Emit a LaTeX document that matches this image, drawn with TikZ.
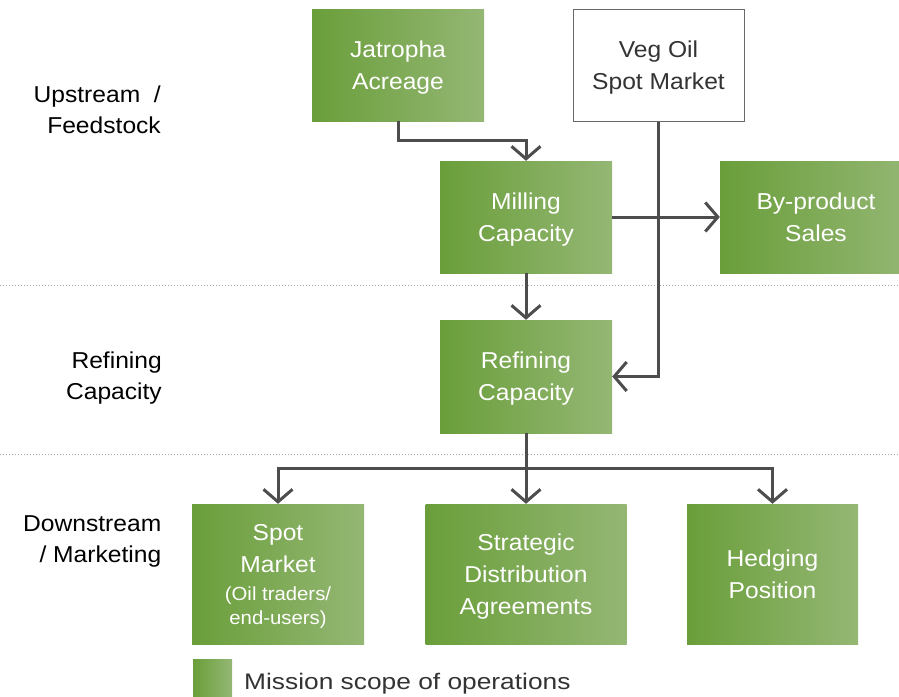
\documentclass[tikz,border=0pt]{standalone}
\usepackage{fontspec}
\setmainfont{Liberation Sans}
\newfontfamily\boxfont{Liberation Sans}[FakeStretch=1.07]
\newfontfamily\legfont{Liberation Sans}[FakeStretch=1.17]
\usetikzlibrary{arrows.meta}
\definecolor{gdark}{RGB}{106,158,58}
\definecolor{glight}{RGB}{148,183,116}
\definecolor{lnc}{RGB}{77,77,77}
\definecolor{dotc}{RGB}{165,165,165}
\definecolor{txtgray}{RGB}{51,51,51}
\definecolor{vegborder}{RGB}{105,105,105}
\begin{document}
\begin{tikzpicture}[x=1pt,y=-1pt,
  gbox/.style={left color=gdark, right color=glight, draw=none, text=white,
    minimum width=172pt, minimum height=112pt, inner sep=0pt, align=center,
    text depth=0pt, font=\boxfont\fontsize{23}{32}\selectfont},
  vegbox/.style={fill=white, draw=vegborder, line width=1pt, text=txtgray,
    minimum width=171pt, minimum height=112pt, inner sep=0pt, align=center,
    text depth=0pt, font=\boxfont\fontsize{23}{32}\selectfont},
  lab/.style={align=right, inner sep=0pt, anchor=east, text=black,
    font=\boxfont\fontsize{23}{31}\selectfont},
  conn/.style={draw=lnc, line width=3pt},
  arr/.style={conn, -{Straight Barb[length=12.5pt,width=29pt]}},
  dotline/.style={draw=dotc, line width=1pt, dash pattern=on 1pt off 2pt}]
\useasboundingbox (0,0) rectangle (899,696);

% separators
\draw[dotline] (0,285.5) -- (899,285.5);
\draw[dotline] (0,454.5) -- (899,454.5);

% boxes
\node[gbox] (jat) at (398,65) {Jatropha\\Acreage};
\node[vegbox] (veg) at (658.5,65) {Veg Oil\\Spot Market};
\node[gbox] (mill) at (526,217) {Milling\\Capacity};
\node[gbox, minimum width=192pt] (byp) at (816,217) {By-product\\Sales};
\node[gbox, minimum height=113pt] (ref) at (526,376.5) {Refining\\Capacity};
\node[gbox, minimum height=140pt] (spot) at (278,574)
  {Spot\\Market\\[-4pt]{\fontsize{19}{24}\selectfont (Oil traders/}\\[-8pt]{\fontsize{19}{24}\selectfont end-users)}};
\node[gbox, minimum width=201pt, minimum height=140pt] (strat) at (526,574)
  {Strategic\\Distribution\\Agreements};
\node[gbox, minimum width=171pt, minimum height=140pt] (hedge) at (772.5,574)
  {Hedging\\Position};

% left labels
\node[lab] (up) at (161,109.5) {Upstream~~/\\Feedstock};
\node[lab] (refl) at (162,378.5) {Refining\\Capacity};
\node[lab] (down) at (161.5,541) {Downstream\\/ Marketing};

% connectors
\draw[arr] (jat.south) -- ++(0,19) -| (mill.north);
\draw[arr] (mill.east) -- (byp.west);
\draw[arr] (veg.south) |- (ref.east);
\draw[arr] (mill.south) -- (ref.north);
\coordinate (split) at (526,468);
\draw[conn] (ref.south) -- (split);
\draw[arr] (split) -| (spot.north);
\draw[arr] (split) -- (strat.north);
\draw[arr] (split) -| (hedge.north);

% legend
\node[left color=gdark, right color=glight, draw=none, inner sep=0pt,
  minimum width=39pt, minimum height=38pt] (leg) at (212.5,678) {};
\node[anchor=base west, inner sep=0pt, text=txtgray,
  font=\legfont\fontsize{22.5}{28}\selectfont] (legt) at (244,689)
  {Mission scope of operations};
\end{tikzpicture}
\end{document}
